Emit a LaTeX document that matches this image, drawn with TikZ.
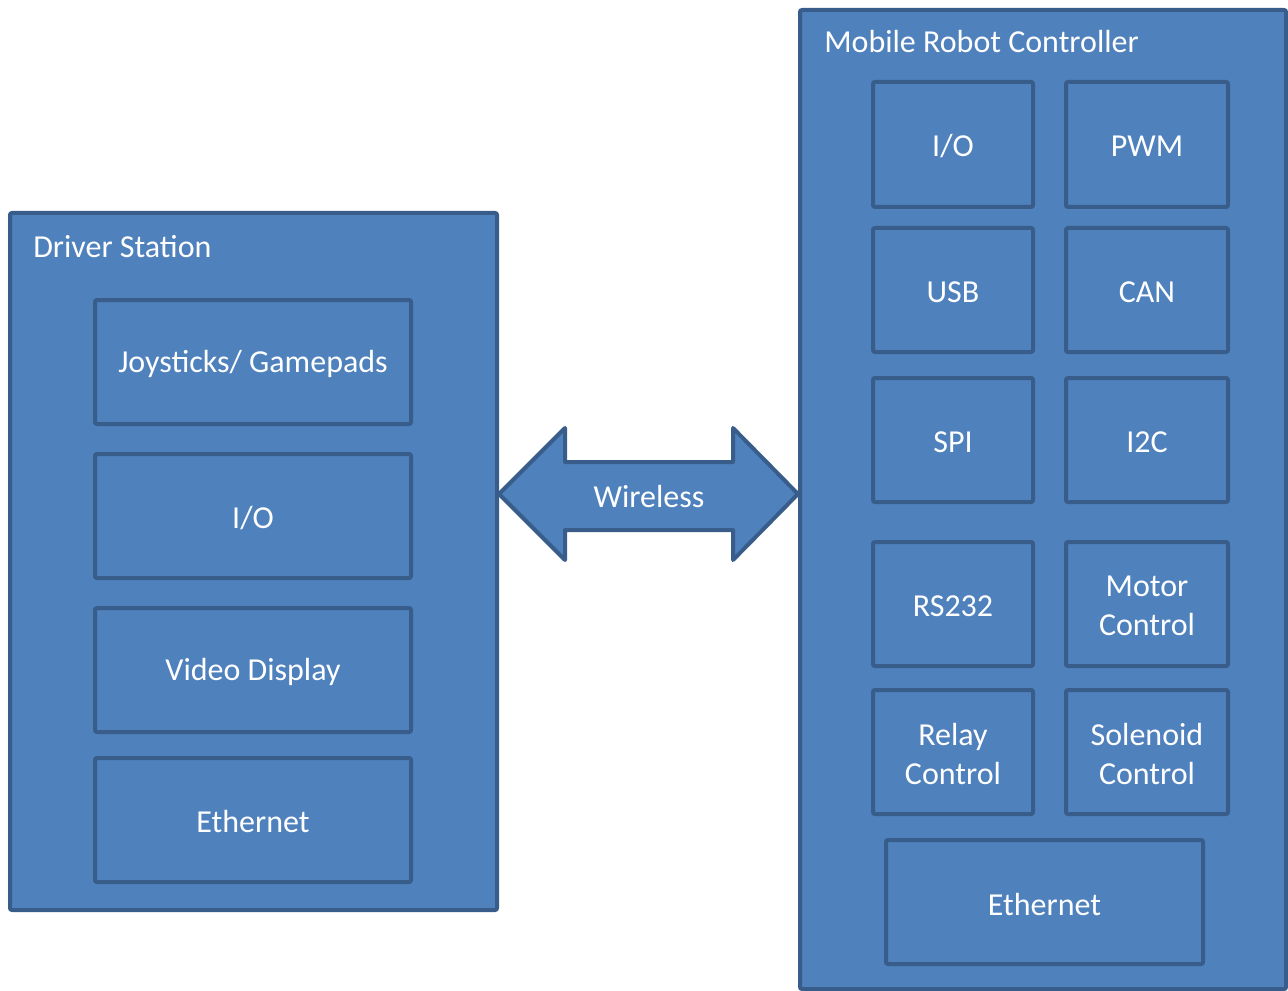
\documentclass[tikz,border=0pt]{standalone}
\usepackage{fontspec}
\setmainfont{Carlito}
\usetikzlibrary{fit}
\definecolor{boxfill}{HTML}{4F81BD}
\definecolor{boxline}{HTML}{385D8A}
\tikzset{
  box/.style={draw=boxline, fill=boxfill, line width=3pt, rounded corners=1.5pt,
    inner sep=0pt},
  boxtext/.style={text=white, align=center, inner sep=0pt, yshift=-1.5pt,
    font=\fontsize{24}{29}\selectfont},
  title/.style={anchor=west, text=white, inner sep=0pt,
    font=\fontsize{24}{29}\selectfont},
}
\begin{document}
\begin{tikzpicture}[x=0.75pt, y=-0.75pt]
  \useasboundingbox (0,0) rectangle (1288,991);

  % Driver station and its parts
  \node[box, fit={(10,213) (497,910)}] (ds) {};
  \node[title] (dstitle) at (33,247) {Driver Station};
  \node[box, fit={(95,300) (411,424)}] (dsjoy) {};
  \node[boxtext] at (dsjoy.center) {Joysticks/ Gamepads};
  \node[box, fit={(95,454) (411,578)}] (dsio) {};
  \node[boxtext] at (dsio.center) {I/O};
  \node[box, fit={(95,608) (411,732)}] (dsvid) {};
  \node[boxtext] at (dsvid.center) {Video Display};
  \node[box, fit={(95,758) (411,882)}] (dseth) {};
  \node[boxtext] at (dseth.center) {Ethernet};

  % Robot controller and its interfaces
  \node[box, fit={(800,10) (1286,989)}] (rc) {};
  \node[title] (rctitle) at (824,42) {Mobile Robot Controller};
  \node[box, fit={(873,82) (1033,207)}] (rcio) {};
  \node[boxtext] at (rcio.center) {I/O};
  \node[box, fit={(1066,82) (1228,207)}] (rcpwm) {};
  \node[boxtext] at (rcpwm.center) {PWM};
  \node[box, fit={(873,228) (1033,352)}] (rcusb) {};
  \node[boxtext] at (rcusb.center) {USB};
  \node[box, fit={(1066,228) (1228,352)}] (rccan) {};
  \node[boxtext] at (rccan.center) {CAN};
  \node[box, fit={(873,378) (1033,502)}] (rcspi) {};
  \node[boxtext] at (rcspi.center) {SPI};
  \node[box, fit={(1066,378) (1228,502)}] (rci2c) {};
  \node[boxtext] at (rci2c.center) {I2C};
  \node[box, fit={(873,542) (1033,666)}] (rcrs) {};
  \node[boxtext] at (rcrs.center) {RS232};
  \node[box, fit={(1066,542) (1228,666)}] (rcmotor) {};
  \node[boxtext] at (rcmotor.center) {Motor\\Control};
  \node[box, fit={(873,690) (1033,814)}] (rcrelay) {};
  \node[boxtext] at (rcrelay.center) {Relay\\Control};
  \node[box, fit={(1066,690) (1228,814)}] (rcsol) {};
  \node[boxtext] at (rcsol.center) {Solenoid\\Control};
  \node[box, fit={(886,840) (1203,964)}] (rceth) {};
  \node[boxtext] at (rceth.center) {Ethernet};

  % Double-headed wireless link between the two units
  \draw[draw=boxline, fill=boxfill, line width=3pt, line join=round]
    (499,494) -- (565,428) -- (565,462) -- (733,462) -- (733,428)
    -- (798,494) -- (733,560) -- (733,530) -- (565,530) -- (565,560) -- cycle;
  \node[boxtext] (wl) at (649,495) {Wireless};
\end{tikzpicture}
\end{document}
